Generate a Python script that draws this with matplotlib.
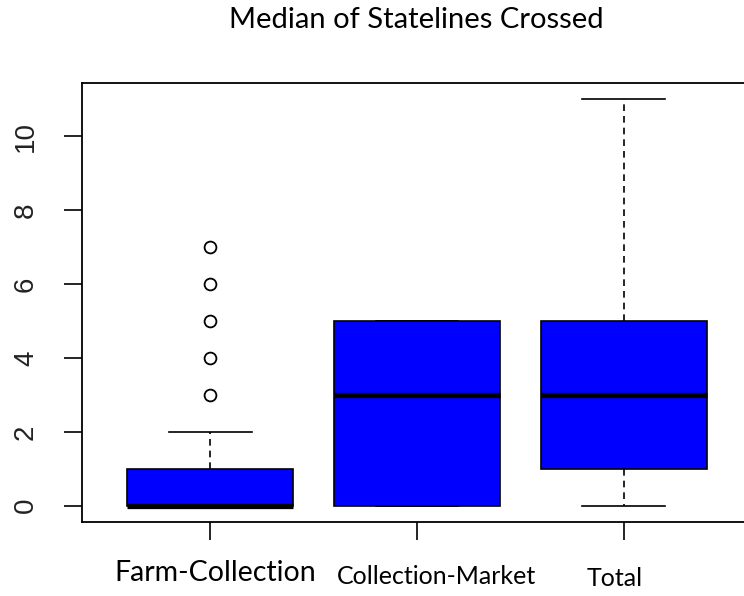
import matplotlib
matplotlib.use("Agg")
import matplotlib.pyplot as plt

# box statistics
groups = ["Farm-Collection", "Collection-Market", "Total"]
q1 = [0, 0, 1]
med = [0, 3, 3]
q3 = [1, 5, 5]
whislo = [0, 0, 0]
whishi = [2, 5, 11]
fliers = [[3, 4, 5, 6, 7], [], []]
yticks = [0, 2, 4, 6, 8, 10]

stats = [dict(label=g, q1=a, med=m, q3=b, whislo=lo, whishi=hi, fliers=f)
         for g, a, m, b, lo, hi, f in zip(groups, q1, med, q3, whislo, whishi, fliers)]

fig = plt.figure(figsize=(7.44, 5.96), dpi=100)
ax = fig.add_axes([82 / 744, 74 / 596, 670 / 744, 439 / 596])

ax.bxp(stats, positions=[1, 2, 3], widths=0.8, patch_artist=True,
       boxprops=dict(facecolor="#0000ff", edgecolor="black", linewidth=1.2),
       medianprops=dict(color="black", linewidth=3.8, solid_capstyle="butt"),
       whiskerprops=dict(color="black", linestyle=(0, (4, 3)), linewidth=1.2),
       capprops=dict(color="black", linewidth=1.2),
       capwidths=0.4,
       flierprops=dict(marker="o", markerfacecolor="none", markeredgecolor="black",
                       markersize=8.5, markeredgewidth=1.3))

ax.set_xlim(0.38, 3.62)
ax.set_ylim(-0.44, 11.44)
ax.set_yticks(yticks)
ax.set_yticklabels([str(v) for v in yticks], rotation=90, va="center",
                   fontsize=20, family="Liberation Sans", color="#222222")
ax.tick_params(axis="y", length=13, width=1.2, pad=18)
ax.tick_params(axis="x", length=13, width=1.2)
ax.set_xticks([1, 2, 3])
ax.set_xticklabels([])
for s in ax.spines.values():
    s.set_linewidth(1.3)

# group labels drawn by hand, as in the original
lab_size = [20.5, 18, 18]
lab_y = [573, 576, 579]
lab_x = [215, 437, 615]
for g, fs, yy, xx in zip(groups, lab_size, lab_y, lab_x):
    fig.text(xx / 744, 1 - yy / 596, g, ha="center", va="center",
             fontsize=fs, family="Lato")

fig.text(416 / 744, 1 - 20 / 596, "Median of Statelines Crossed",
         ha="center", va="center", fontsize=21, family="Lato")

fig.savefig("out.png", dpi=100)
